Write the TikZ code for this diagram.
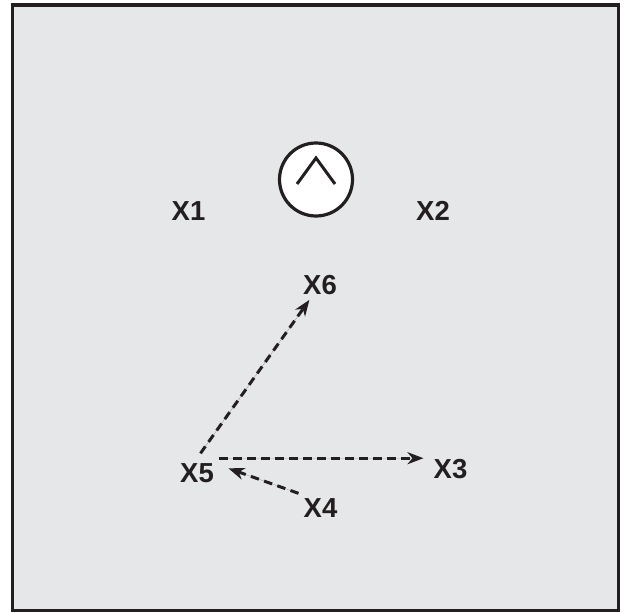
\documentclass[tikz,border=0pt]{standalone}
\usepackage{fontspec}
\setmainfont{Liberation Sans}
\usetikzlibrary{calc}
\usetikzlibrary{arrows.meta}
\definecolor{ink}{HTML}{231f20}
\definecolor{panelbg}{HTML}{e6e7e8}

\begin{document}
\begin{tikzpicture}[
    x=1pt, y=-1pt,
    >={Stealth[length=16pt, width=12pt, inset=5pt]},
    var/.style={inner sep=5pt, text=ink,
                font=\fontsize{27.5}{28}\selectfont\bfseries},
    dial/.style={circle, draw=ink, fill=white, line width=3.2pt,
                 minimum size=73pt, inner sep=0pt},
    link/.style={->, draw=ink, fill=ink, line width=3pt,
                 dash pattern=on 8.5pt off 5.5pt},
]

\useasboundingbox (0,0) rectangle (624,613);

% ── panel ──
\draw[draw=ink, fill=panelbg, line width=3.2pt] (12.7,5) rectangle (618.7,610.7);

% ── dial with chevron ──
\node[dial] (dial) at (316,179.5) {};
\draw[ink, line width=3pt]
    ($(dial)+(-19,4.5)$) -- ($(dial)+(0,-21.5)$) -- ($(dial)+(19,4.5)$);

% ── variables ──
\node[var] (x1) at (188.5,211) {X1};
\node[var] (x2) at (433,211)   {X2};
\node[var] (x6) at (320,285)   {X6};
\node[var] (x5) at (197,473)   {X5};
\node[var] (x3) at (450.5,469) {X3};
\node[var] (x4) at (320.5,508) {X4};

% ── dashed links ──
\draw[link, shorten <=6pt] (x5.north) -- (x6);
\draw[link, shorten >=5pt] (x5.north east) -- (x5.north east -| x3.west);
\draw[link, shorten >=10pt] (x4.north west) -- (x5.20);

\end{tikzpicture}
\end{document}
